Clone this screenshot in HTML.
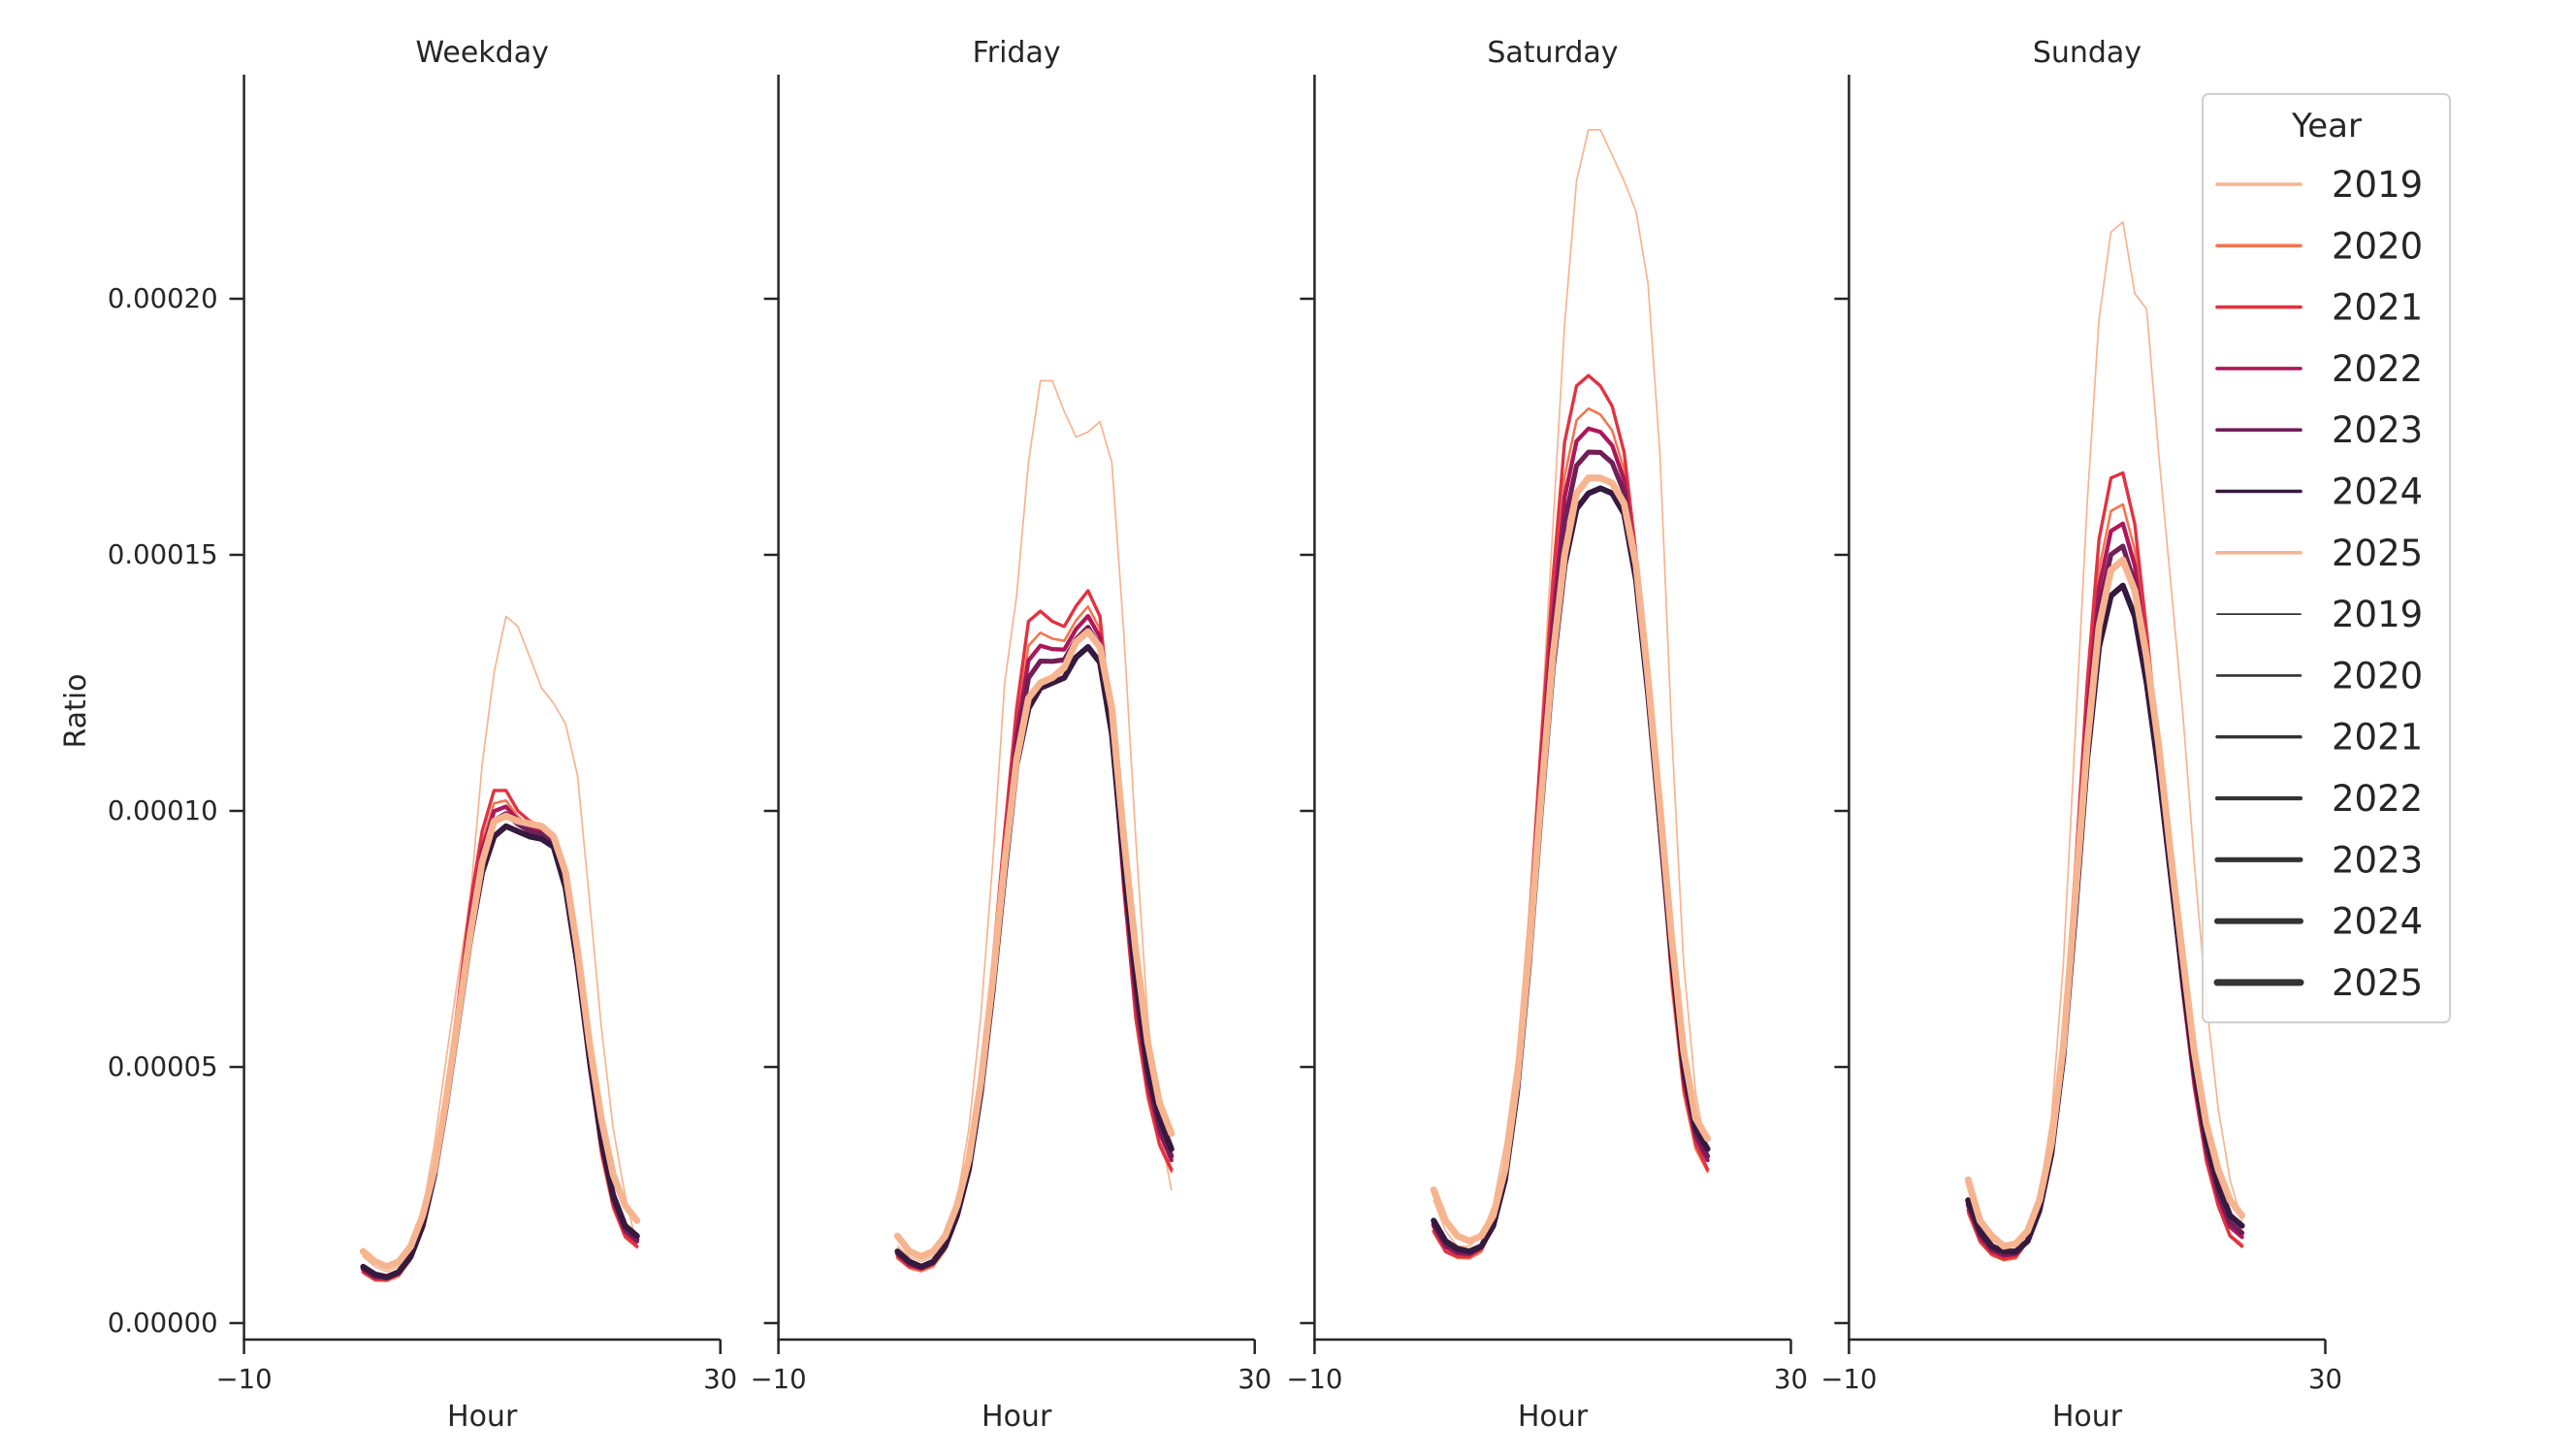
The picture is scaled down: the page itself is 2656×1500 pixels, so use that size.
<!DOCTYPE html>
<html><head><meta charset="utf-8">
<style>html,body{margin:0;padding:0;background:#fff}svg{display:block}text{font-family:"DejaVu Sans","Liberation Sans",sans-serif;fill:#262626}</style>
</head><body>
<svg id="s" width="2656" height="1500" viewBox="0 0 2656 1500" xmlns="http://www.w3.org/2000/svg">
<rect width="2656" height="1500" fill="#fff"/>
<g id="g"></g>
</svg>
<script>
const NS="http://www.w3.org/2000/svg";
const g=document.getElementById('g');
function el(t,a,txt){const e=document.createElementNS(NS,t);for(const k in a)e.setAttribute(k,a[k]);if(txt!==undefined)e.textContent=txt;g.appendChild(e);return e;}
const lefts=[251.6,802.6,1355.4,1906.4],W=491.1,Y0=1364,K=52.8,TOP=77,BOT=1381;
const titles=["Weekday","Friday","Saturday","Sunday"];
const data=[
{y2019:[1.3,1.1,1.0,1.1,1.4,2.2,3.5,5.2,6.8,8.3,10.9,12.7,13.8,13.6,13.0,12.4,12.1,11.7,10.7,8.3,5.8,3.8,2.5,1.5],
 y2021:[1.0,0.85,0.85,0.95,1.3,2.0,3.0,4.5,6.3,8.2,9.6,10.4,10.4,10.0,9.8,9.7,9.5,8.6,7.0,5.0,3.4,2.3,1.7,1.5],
 y2024:[1.1,0.95,0.9,1.0,1.3,1.9,2.9,4.3,5.9,7.5,8.8,9.5,9.7,9.6,9.5,9.45,9.3,8.5,7.0,5.2,3.6,2.5,1.9,1.7],
 y2025:[1.4,1.2,1.1,1.2,1.5,2.1,3.0,4.4,6.0,7.6,9.0,9.8,9.9,9.8,9.75,9.7,9.5,8.8,7.3,5.5,4.0,2.9,2.3,2.0]},
{y2019:[1.5,1.3,1.2,1.3,1.6,2.4,3.8,6.0,9.0,12.5,14.2,16.8,18.4,18.4,17.8,17.3,17.4,17.6,16.8,13.5,9.5,6.0,3.8,2.6],
 y2021:[1.3,1.1,1.05,1.15,1.5,2.2,3.2,4.8,7.0,9.6,12.0,13.7,13.9,13.7,13.6,14.0,14.3,13.8,11.5,8.5,6.0,4.5,3.5,3.0],
 y2024:[1.4,1.2,1.1,1.2,1.5,2.1,3.0,4.5,6.5,8.8,10.9,12.0,12.4,12.5,12.6,13.0,13.2,12.9,11.5,9.0,6.8,5.0,4.0,3.4],
 y2025:[1.7,1.4,1.3,1.4,1.7,2.3,3.2,4.7,6.7,9.0,11.0,12.2,12.5,12.6,12.8,13.3,13.5,13.2,12.0,9.5,7.3,5.5,4.3,3.7]},
{y2019:[2.4,1.8,1.5,1.5,1.7,2.3,3.5,5.2,8.0,11.5,15.5,19.5,22.3,23.3,23.3,22.8,22.3,21.7,20.3,17.0,11.5,7.0,4.5,3.2],
 y2021:[1.8,1.4,1.3,1.3,1.45,1.9,2.9,4.8,7.6,11.2,14.5,17.2,18.3,18.5,18.3,17.9,17.0,15.0,12.3,9.5,6.8,4.6,3.5,3.0],
 y2024:[2.0,1.6,1.45,1.4,1.5,1.9,2.8,4.5,7.0,10.0,12.8,14.8,15.9,16.2,16.3,16.2,15.8,14.5,12.3,9.8,7.2,5.0,3.8,3.4],
 y2025:[2.6,2.0,1.7,1.6,1.7,2.1,3.0,4.7,7.2,10.2,13.0,15.0,16.2,16.5,16.5,16.4,16.0,14.8,12.6,10.1,7.5,5.3,4.0,3.6]},
{y2019:[2.6,1.9,1.6,1.5,1.5,1.8,2.5,4.0,7.0,11.5,16.0,19.6,21.3,21.5,20.1,19.8,17.0,14.5,12.0,9.0,6.3,4.2,2.8,2.0],
 y2021:[2.2,1.6,1.35,1.25,1.3,1.6,2.3,3.5,5.6,8.8,12.5,15.3,16.5,16.6,15.6,13.5,11.2,8.8,6.5,4.6,3.2,2.3,1.7,1.5],
 y2024:[2.4,1.8,1.5,1.4,1.4,1.6,2.2,3.3,5.2,8.0,11.0,13.2,14.2,14.4,13.8,12.5,10.8,8.8,6.8,5.0,3.6,2.7,2.1,1.9],
 y2025:[2.8,2.0,1.7,1.5,1.55,1.8,2.4,3.5,5.4,8.3,11.3,13.6,14.7,14.9,14.3,13.0,11.3,9.2,7.2,5.3,3.9,3.0,2.4,2.1]}
];
const years=[2019,2020,2021,2022,2023,2024,2025];
const cols={2019:"#f6b48f",2020:"#f37651",2021:"#e13342",2022:"#ad1759",2023:"#701f57",2024:"#35193e",2025:"#f6b48f"};
const lw={2019:1.7,2020:2.6,2021:3.4,2022:4.3,2023:5.1,2024:6.0,2025:7.0};
lefts.forEach((L,pi)=>{
 const D=data[pi];
 const mix=f=>D.y2024.map((v,i)=>v+f*(D.y2021[i]-v));
 const ser={2019:D.y2019,2020:mix(0.72).map((v,i)=>i<5||i>19?v*0.95:v),2021:D.y2021,2022:mix(0.55),2023:mix(0.35),2024:D.y2024,2025:D.y2025};
 years.forEach(y=>{const pts=ser[y].map((v,h)=>(L+(h+10)/40*W).toFixed(1)+","+(Y0-v*K).toFixed(1)).join(" ");
  el('polyline',{points:pts,fill:"none",stroke:cols[y],"stroke-width":lw[y],"stroke-linecap":"round","stroke-linejoin":"round"});});
 el('line',{x1:L,y1:TOP,x2:L,y2:BOT+1.2,stroke:"#262626","stroke-width":2.5});
 el('line',{x1:L-1.2,y1:BOT,x2:L+W,y2:BOT,stroke:"#262626","stroke-width":2.5});
 [0,5,10,15,20].forEach(v=>{const y=Y0-v*K;el('line',{x1:L-15,y1:y,x2:L,y2:y,stroke:"#262626","stroke-width":2.5});
  if(pi==0)el('text',{x:L-27,y:y+9,"text-anchor":"end","font-size":27.5},(v*1e-5).toFixed(5));});
 [[-10,0],[30,W]].forEach(([t,dx])=>{el('line',{x1:L+dx,y1:BOT,x2:L+dx,y2:BOT+15,stroke:"#262626","stroke-width":2.5});
  el('text',{x:L+dx,y:1431,"text-anchor":"middle","font-size":27.5},t<0?"\u221210":"30");});
 el('text',{x:L+W/2,y:1470,"text-anchor":"middle","font-size":30},"Hour");
 el('text',{x:L+W/2,y:64,"text-anchor":"middle","font-size":30},titles[pi]);
});
el('text',{x:0,y:0,"text-anchor":"middle","font-size":30,transform:"translate(88,733) rotate(-90)"},"Ratio");
el('rect',{x:2271,y:97,width:255,height:957,rx:6,fill:"#fff","fill-opacity":0.85,stroke:"#d0d0d0","stroke-width":2});
el('text',{x:2399,y:141,"text-anchor":"middle","font-size":34},"Year");
const blw=[1.7,2.6,3.4,4.3,5.1,6.0,7.0];
for(let i=0;i<14;i++){const y=190+i*63.3;const yr=years[i%7];
 el('line',{x1:2286,y1:y,x2:2372,y2:y,stroke:i<7?cols[yr]:"#333","stroke-width":i<7?3.6:blw[i-7],"stroke-linecap":"round"});
 el('text',{x:2404,y:y+13,"font-size":37},String(yr));}
</script>
</body></html>
